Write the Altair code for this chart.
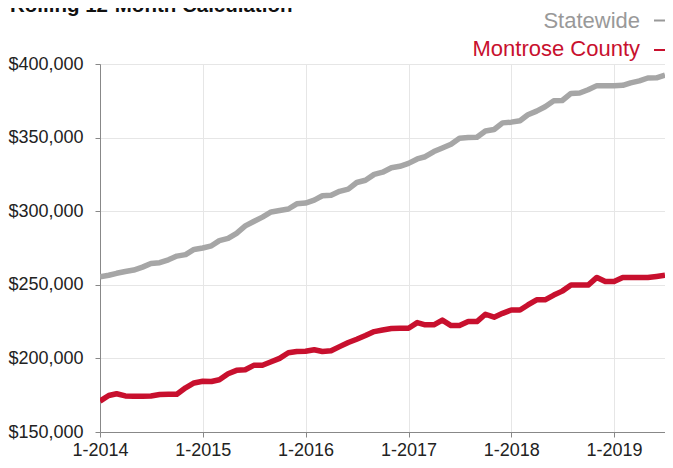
import altair as alt
import pandas as pd

FONT = "Liberation Sans"

months = [f"{2014 + i // 12}-{i % 12 + 1:02d}-01T00:00:00" for i in range(67)]

statewide = [
    255500, 256500, 257800, 259000, 260000, 262000, 264500, 265000, 267000, 269500,
    270500, 274000, 275000, 276500, 280000, 281500, 285000, 290000, 293000, 296000,
    299500, 300500, 301500, 305000, 305500, 307500, 310500, 310800, 313500, 315000,
    319500, 321000, 325000, 326500, 329500, 330500, 332500, 335500, 337000, 340500,
    343000, 345500, 349500, 350000, 350200, 354500, 355500, 360000, 360500, 361500,
    365500, 368000, 371000, 375000, 375200, 380000, 380300, 382500, 385300, 385300,
    385300, 385500, 387200, 388500, 390500, 390600, 392500,
]

montrose = [
    171000, 174800, 176000, 174500, 174300, 174300, 174500, 175500, 175700, 175700,
    180000, 183300, 184500, 184300, 185500, 189600, 191900, 192300, 195300, 195300,
    197700, 200000, 203800, 204700, 204900, 205900, 204700, 205200, 208000, 210800,
    213000, 215500, 218200, 219300, 220300, 220500, 220500, 224300, 222800, 222800,
    226000, 222300, 222300, 225000, 225000, 230000, 228000, 230600, 232900, 232900,
    236300, 239800, 239800, 243000, 245700, 249800, 249800, 249800, 255000, 252200,
    252200, 255000, 255000, 255000, 255000, 255700, 256500,
]

series_names = ["Statewide", "Montrose County"]
series_colors = ["#a6a6a6", "#c8102e"]
legend_text_colors = ["#999999", "#c8102e"]
legend_dash_colors = ["#999999", "#c8102e"]
year_ticks = [2014, 2015, 2016, 2017, 2018, 2019]
y_ticks = [150000, 200000, 250000, 300000, 350000, 400000]
title_text = "Rolling 12-Month Calculation"

df = pd.DataFrame({
    "month": months + months,
    "value": statewide + montrose,
    "series": [series_names[0]] * len(months) + [series_names[1]] * len(months),
})

x_enc = alt.X(
    "month:T",
    scale=alt.Scale(
        domain=[alt.DateTime(year=2014, month=1, date=1), alt.DateTime(year=2019, month=7, date=1)],
        nice=False,
    ),
    axis=alt.Axis(
        values=[alt.DateTime(year=y, month=1, date=1) for y in year_ticks],
        format="%-m-%Y",
        title=None,
        labelPadding=4,
        labelFlush=False,
    ),
)
y_enc = alt.Y(
    "value:Q",
    scale=alt.Scale(domain=[150000, 400000], nice=False, zero=False),
    axis=alt.Axis(values=y_ticks, format="$,.0f", title=None, labelPadding=12),
)

lines = alt.Chart(df).mark_line(strokeWidth=5.5, strokeJoin="round", clip=True).encode(
    x=x_enc,
    y=y_enc,
    color=alt.Color("series:N", scale=alt.Scale(domain=series_names, range=series_colors), legend=None),
)

layers = [lines]
for i, name in enumerate(series_names):
    ldf = pd.DataFrame({"label": [name]})
    layers.append(
        alt.Chart(ldf).mark_text(
            align="right", baseline="alphabetic", fontSize=22, font=FONT,
            color=legend_text_colors[i],
        ).encode(x=alt.value(540), y=alt.value(-36.5 + 28 * i), text="label:N")
    )
    layers.append(
        alt.Chart(ldf).mark_rule(color=legend_dash_colors[i], strokeWidth=2).encode(
            x=alt.value(554), x2=alt.value(580), y=alt.value(-43.5 + 29.5 * i)
        )
    )

layers.append(
    alt.Chart(pd.DataFrame({"t": [title_text]})).mark_text(
        align="left", baseline="alphabetic", fontSize=20.5, fontWeight="bold",
        font=FONT, color="#111111",
    ).encode(x=alt.value(-90), y=alt.value(-52.5), text="t:N")
)

chart = alt.layer(*layers).properties(
    width=565,
    height=368,
    padding={"left": 92, "top": 56, "right": 0, "bottom": 28},
    autosize=alt.AutoSizeParams(type="none"),
).configure_view(
    stroke="#cccccc", strokeWidth=1
).configure_axis(
    domainColor="#888888",
    tickColor="#888888",
    tickSize=5,
    gridColor="#e6e6e6",
    labelFont=FONT,
    labelFontSize=18,
    labelColor="#222222",
)

chart.save("out.html", embed_options={"renderer": "svg", "actions": False})
